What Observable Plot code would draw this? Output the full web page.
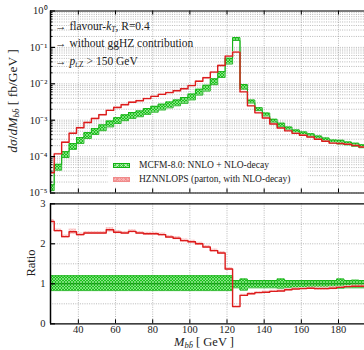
<!DOCTYPE html>
<html><head><meta charset="utf-8">
<script src="https://cdn.jsdelivr.net/npm/d3@7"></script>
<script src="https://cdn.jsdelivr.net/npm/@observablehq/plot@0.6"></script>
<style>
html,body{margin:0;padding:0;background:#fff;overflow:hidden}
#wrap{position:relative;width:364px;height:350px;font-family:"Liberation Serif",serif;color:#222;overflow:hidden}
.pan{position:absolute;left:0}
.t{position:absolute;white-space:nowrap;line-height:1}
.rot{position:absolute;white-space:nowrap;line-height:1;transform:translate(-50%,-50%) rotate(-90deg)}
.sw{position:absolute;width:17px;height:5px;box-sizing:border-box}
</style></head><body>
<svg width="0" height="0" style="position:absolute">
<defs>
<pattern id="hatchG" patternUnits="userSpaceOnUse" width="3" height="3">
<rect width="3" height="3" fill="#1cc21c"/>
<path d="M0,0L3,3M3,0L0,3" stroke="#b4f0b4" stroke-width="0.6"/>
</pattern>
<pattern id="hatchR" patternUnits="userSpaceOnUse" width="3" height="3">
<rect width="3" height="3" fill="#f7b2b2"/>
<path d="M0,0L3,3M3,0L0,3" stroke="#fbd6d6" stroke-width="0.6"/>
</pattern>
</defs></svg>
<div id="wrap"></div>
<script>
// Bin edges of the M_bb histogram (GeV)
const edges = [25,27,31,35,39,43,47,51,55,59,63,67,71,75,79,83,87,91,95,99,103,107,111,115,119,123,127,131,135,139,143,147,151,155,159,163,167,171,175,179,183,187,191,195];
// MCFM-8.0 NNLO + NLO-decay, central value (fb/GeV)
const mcfm = [1.4e-5,5.1e-5,1.14e-4,1.9e-4,2.77e-4,3.8e-4,4.9e-4,6.2e-4,7.9e-4,9.8e-4,1.17e-3,1.35e-3,1.5e-3,1.74e-3,2.0e-3,2.3e-3,2.63e-3,3.0e-3,3.5e-3,4.35e-3,5.9e-3,7.6e-3,1.14e-2,1.8e-2,4.2e-2,0.172,8.5e-3,3.3e-3,2.04e-3,1.45e-3,9.8e-4,7.4e-4,6.0e-4,5.0e-4,4.4e-4,3.9e-4,3.4e-4,3.0e-4,2.63e-4,2.5e-4,2.34e-4,2.14e-4,1.95e-4];
// MCFM uncertainty band, relative lower / upper edge
const mcfmLo = [0.83,0.83,0.83,0.83,0.83,0.83,0.83,0.83,0.83,0.83,0.83,0.83,0.83,0.83,0.83,0.83,0.83,0.83,0.83,0.83,0.83,0.83,0.83,0.83,0.83,0.9,0.84,0.9,0.9,0.9,0.9,0.89,0.9,0.9,0.9,0.9,0.9,0.9,0.9,0.89,0.9,0.9,0.9];
const mcfmHi = [1.2,1.2,1.2,1.2,1.2,1.2,1.2,1.2,1.2,1.2,1.2,1.2,1.2,1.2,1.2,1.2,1.2,1.2,1.2,1.2,1.2,1.2,1.2,1.2,1.2,1.08,1.12,1.08,1.08,1.08,1.08,1.12,1.08,1.08,1.08,1.08,1.08,1.08,1.08,1.12,1.08,1.09,1.08];
// HZNNLOPS (parton, with NLO-decay) (fb/GeV)
const hznnlops = [3.6e-5,1.19e-4,2.49e-4,4.37e-4,6.18e-4,8.63e-4,1.11e-3,1.41e-3,1.86e-3,2.24e-3,2.66e-3,3.12e-3,3.41e-3,3.92e-3,4.5e-3,5.13e-3,5.71e-3,6.42e-3,7.28e-3,8.92e-3,1.18e-2,1.46e-2,2.09e-2,3.19e-2,5.75e-2,7.4e-2,6.0e-3,2.48e-3,1.59e-3,1.15e-3,7.9e-4,6.1e-4,5.1e-4,4.35e-4,3.87e-4,3.47e-4,2.99e-4,2.64e-4,2.34e-4,2.28e-4,2.18e-4,2.01e-4,1.83e-4];
// Ratio HZNNLOPS / MCFM
const ratio = [2.56,2.33,2.18,2.30,2.23,2.27,2.27,2.27,2.35,2.29,2.27,2.31,2.27,2.25,2.25,2.23,2.17,2.14,2.08,2.05,2.00,1.92,1.83,1.77,1.37,0.43,0.71,0.75,0.78,0.79,0.81,0.82,0.85,0.87,0.88,0.89,0.88,0.88,0.89,0.91,0.93,0.94,0.94];
const ratioErr = [0.05,0.04,0.04,0.07,0.04,0.04,0.04,0.04,0.06,0.04,0.04,0.04,0.04,0.04,0.04,0.04,0.04,0.04,0.04,0.04,0.04,0.04,0.04,0.04,0.04,0.03,0.03,0.03,0.03,0.03,0.03,0.03,0.03,0.03,0.03,0.03,0.04,0.04,0.04,0.03,0.03,0.03,0.03];
const hzRelErr = 0.04;
// Axis ticks
const xTicks = [40,60,80,100,120,140,160,180];
const yMajorTop = [1e-5,1e-4,1e-3,1e-2,1e-1,1];
const yMinorTop = [2e-5,3e-5,4e-5,5e-5,6e-5,7e-5,8e-5,9e-5,2e-4,3e-4,4e-4,5e-4,6e-4,7e-4,8e-4,9e-4,2e-3,3e-3,4e-3,5e-3,6e-3,7e-3,8e-3,9e-3,2e-2,3e-2,4e-2,5e-2,6e-2,7e-2,8e-2,9e-2,0.2,0.3,0.4,0.5,0.6,0.7,0.8,0.9];
const yRatioLabels = [0,1,2,3];
const yRatioGrid = [0.5,1,1.5,2,2.5];

const X0 = 25, X1 = 194, W = 364, ML = 50;
const n = mcfm.length;
const steps = edges.map((e, i) => ({x: e, i: Math.min(i, n - 1)}));
const sup = {"0":"⁰","1":"¹","2":"²","3":"³","4":"⁴","5":"⁵","-":"⁻"};
const fmtPow = d => "10" + String(Math.round(Math.log10(d))).replace(/./g, c => sup[c]);
const gridStyle = {stroke: "#8a8a8a", strokeOpacity: 0.75, strokeDasharray: "1,1.3", strokeWidth: 0.8};
const RED = "#dc1c1c", GREEN = "#12b012", DGREEN = "#0c900c";
const style = {fontFamily: "'Liberation Serif', serif", fontSize: "10px", color: "#222", background: "transparent", overflow: "hidden"};

const topH = 200, topMT = 10.5, topMB = 7.5;
const topFrameH = topH - topMT - topMB, frameW = W - ML;
const topPlot = Plot.plot({
  width: W, height: topH, marginLeft: ML, marginRight: 0, marginTop: topMT, marginBottom: topMB,
  style,
  x: {domain: [X0, X1], axis: null},
  y: {type: "log", domain: [1e-5, 1], axis: null},
  marks: [
    Plot.gridY(yMinorTop, gridStyle),
    Plot.gridY(yMajorTop, gridStyle),
    Plot.gridX(xTicks, gridStyle),
    Plot.areaY(steps, {x: "x", y1: d => mcfm[d.i] * mcfmLo[d.i], y2: d => mcfm[d.i] * mcfmHi[d.i], curve: "step-after", fill: "url(#hatchG)", clip: true}),
    Plot.lineY(steps, {x: "x", y: d => mcfm[d.i] * mcfmLo[d.i], curve: "step-after", stroke: GREEN, strokeWidth: 0.9, clip: true}),
    Plot.lineY(steps, {x: "x", y: d => mcfm[d.i] * mcfmHi[d.i], curve: "step-after", stroke: GREEN, strokeWidth: 0.9, clip: true}),
    Plot.areaY(steps, {x: "x", y1: d => hznnlops[d.i] * (1 - hzRelErr), y2: d => hznnlops[d.i] * (1 + hzRelErr), curve: "step-after", fill: "url(#hatchR)", fillOpacity: 0.8, clip: true}),
    Plot.lineY(steps, {x: "x", y: d => hznnlops[d.i], curve: "step-after", stroke: RED, strokeWidth: 1.4, clip: true}),
    Plot.ruleY([1], {stroke: "#7a7a7a", strokeWidth: 2}),
    Plot.ruleY([1e-5], {stroke: "#000", strokeWidth: 1.2}),
    Plot.ruleX([X0], {stroke: "#000", strokeWidth: 1.5}),
    Plot.tickX(xTicks, {x: d => d, insetTop: topFrameH - 4, stroke: "#000"}),
    Plot.tickX(xTicks, {x: d => d, insetBottom: topFrameH - 4, stroke: "#000"}),
    Plot.tickY(yMajorTop, {y: d => d, insetRight: frameW - 5, stroke: "#000", strokeWidth: 1.2}),
    Plot.tickY(yMinorTop, {y: d => d, insetRight: frameW - 2.5, stroke: "#000"}),
    Plot.axisY(yMajorTop, {tickSize: 0, tickPadding: 3, tickFormat: fmtPow, label: null, fontSize: 10.5})
  ]
});

const botH = 155, botMT = 8.3, botMB = 26.7;
const botFrameH = botH - botMT - botMB;
const botPlot = Plot.plot({
  width: W, height: botH, marginLeft: ML, marginRight: 0, marginTop: botMT, marginBottom: botMB,
  style,
  x: {domain: [X0, X1], axis: null},
  y: {domain: [0, 3], axis: null},
  marks: [
    Plot.gridY(yRatioGrid, gridStyle),
    Plot.gridX(xTicks, gridStyle),
    Plot.areaY(steps, {x: "x", y1: d => mcfmLo[d.i], y2: d => mcfmHi[d.i], curve: "step-after", fill: "url(#hatchG)", clip: true}),
    Plot.lineY(steps, {x: "x", y: d => mcfmLo[d.i], curve: "step-after", stroke: GREEN, strokeWidth: 0.9, clip: true}),
    Plot.lineY(steps, {x: "x", y: d => mcfmHi[d.i], curve: "step-after", stroke: GREEN, strokeWidth: 0.9, clip: true}),
    Plot.ruleY([1], {stroke: DGREEN, strokeWidth: 1}),
    Plot.areaY(steps, {x: "x", y1: d => ratio[d.i] - ratioErr[d.i], y2: d => ratio[d.i] + ratioErr[d.i], curve: "step-after", fill: "url(#hatchR)", fillOpacity: 0.8, clip: true}),
    Plot.lineY(steps, {x: "x", y: d => ratio[d.i], curve: "step-after", stroke: RED, strokeWidth: 1.4, clip: true}),
    Plot.ruleY([3], {stroke: "#000", strokeWidth: 1.2}),
    Plot.ruleY([0], {stroke: "#000", strokeWidth: 1.2}),
    Plot.ruleX([X0], {stroke: "#000", strokeWidth: 1.5}),
    Plot.tickX(xTicks, {x: d => d, insetTop: botFrameH - 4, stroke: "#000"}),
    Plot.tickY(yRatioLabels, {y: d => d, insetRight: frameW - 5, stroke: "#000", strokeWidth: 1.2}),
    Plot.axisY(yRatioLabels, {tickSize: 0, tickPadding: 5, label: null, fontSize: 10.5}),
    Plot.axisX(xTicks, {tickSize: 0, tickPadding: 2, label: null, fontSize: 10.5})
  ]
});

const wrap = document.getElementById("wrap");
const p1 = document.createElement("div"); p1.className = "pan"; p1.style.top = "0px"; p1.appendChild(topPlot);
const p2 = document.createElement("div"); p2.className = "pan"; p2.style.top = "195px"; p2.appendChild(botPlot);
wrap.appendChild(p1); wrap.appendChild(p2);

wrap.insertAdjacentHTML("beforeend", `
<div class="t" style="left:55px;top:20.5px;font-size:11.5px">→ flavour-<i>k</i><sub style="font-size:7.5px;vertical-align:-2px"><i>T</i></sub>, R=0.4</div>
<div class="t" style="left:55px;top:38px;font-size:11.5px">→ without ggHZ contribution</div>
<div class="t" style="left:55px;top:55.5px;font-size:11.5px">→ <i>p</i><sub style="font-size:7.5px;vertical-align:-2px"><i>t</i>,Z</sub> &gt; 150 GeV</div>
<div style="position:absolute;left:108px;top:157px;width:200px;height:30px;background:rgba(255,255,255,0.85)"></div>
<div class="sw" style="left:113px;top:162.5px;border:1px solid #10b010;background-color:#3ccc3c;background-image:repeating-linear-gradient(45deg,rgba(255,255,255,.5) 0 1px,transparent 1px 3px),repeating-linear-gradient(-45deg,rgba(255,255,255,.5) 0 1px,transparent 1px 3px)"></div>
<div class="sw" style="left:113px;top:176.5px;border:1px solid #f08a8a;background-color:#f7b2b2;background-image:repeating-linear-gradient(45deg,rgba(240,120,120,.5) 0 1px,transparent 1px 3px),repeating-linear-gradient(-45deg,rgba(240,120,120,.5) 0 1px,transparent 1px 3px)"></div>
<div class="t" style="left:139px;top:160.5px;font-size:9.5px">MCFM-8.0: NNLO + NLO-decay</div>
<div class="t" style="left:139px;top:174.5px;font-size:9.5px">HZNNLOPS (parton, with NLO-decay)</div>
<div class="rot" style="left:13px;top:101px;font-size:13.5px"><i>dσ</i>/<i>dM</i><sub style="font-size:9px;vertical-align:-2px"><i>bb̄</i></sub> [ fb/GeV ]</div>
<div class="rot" style="left:31px;top:263px;font-size:12.5px">Ratio</div>
<div class="t" style="left:174px;top:336px;font-size:12.5px"><i>M</i><sub style="font-size:8.5px;vertical-align:-2px"><i>bb̄</i></sub> [ GeV ]</div>
`);
</script>
</body></html>
